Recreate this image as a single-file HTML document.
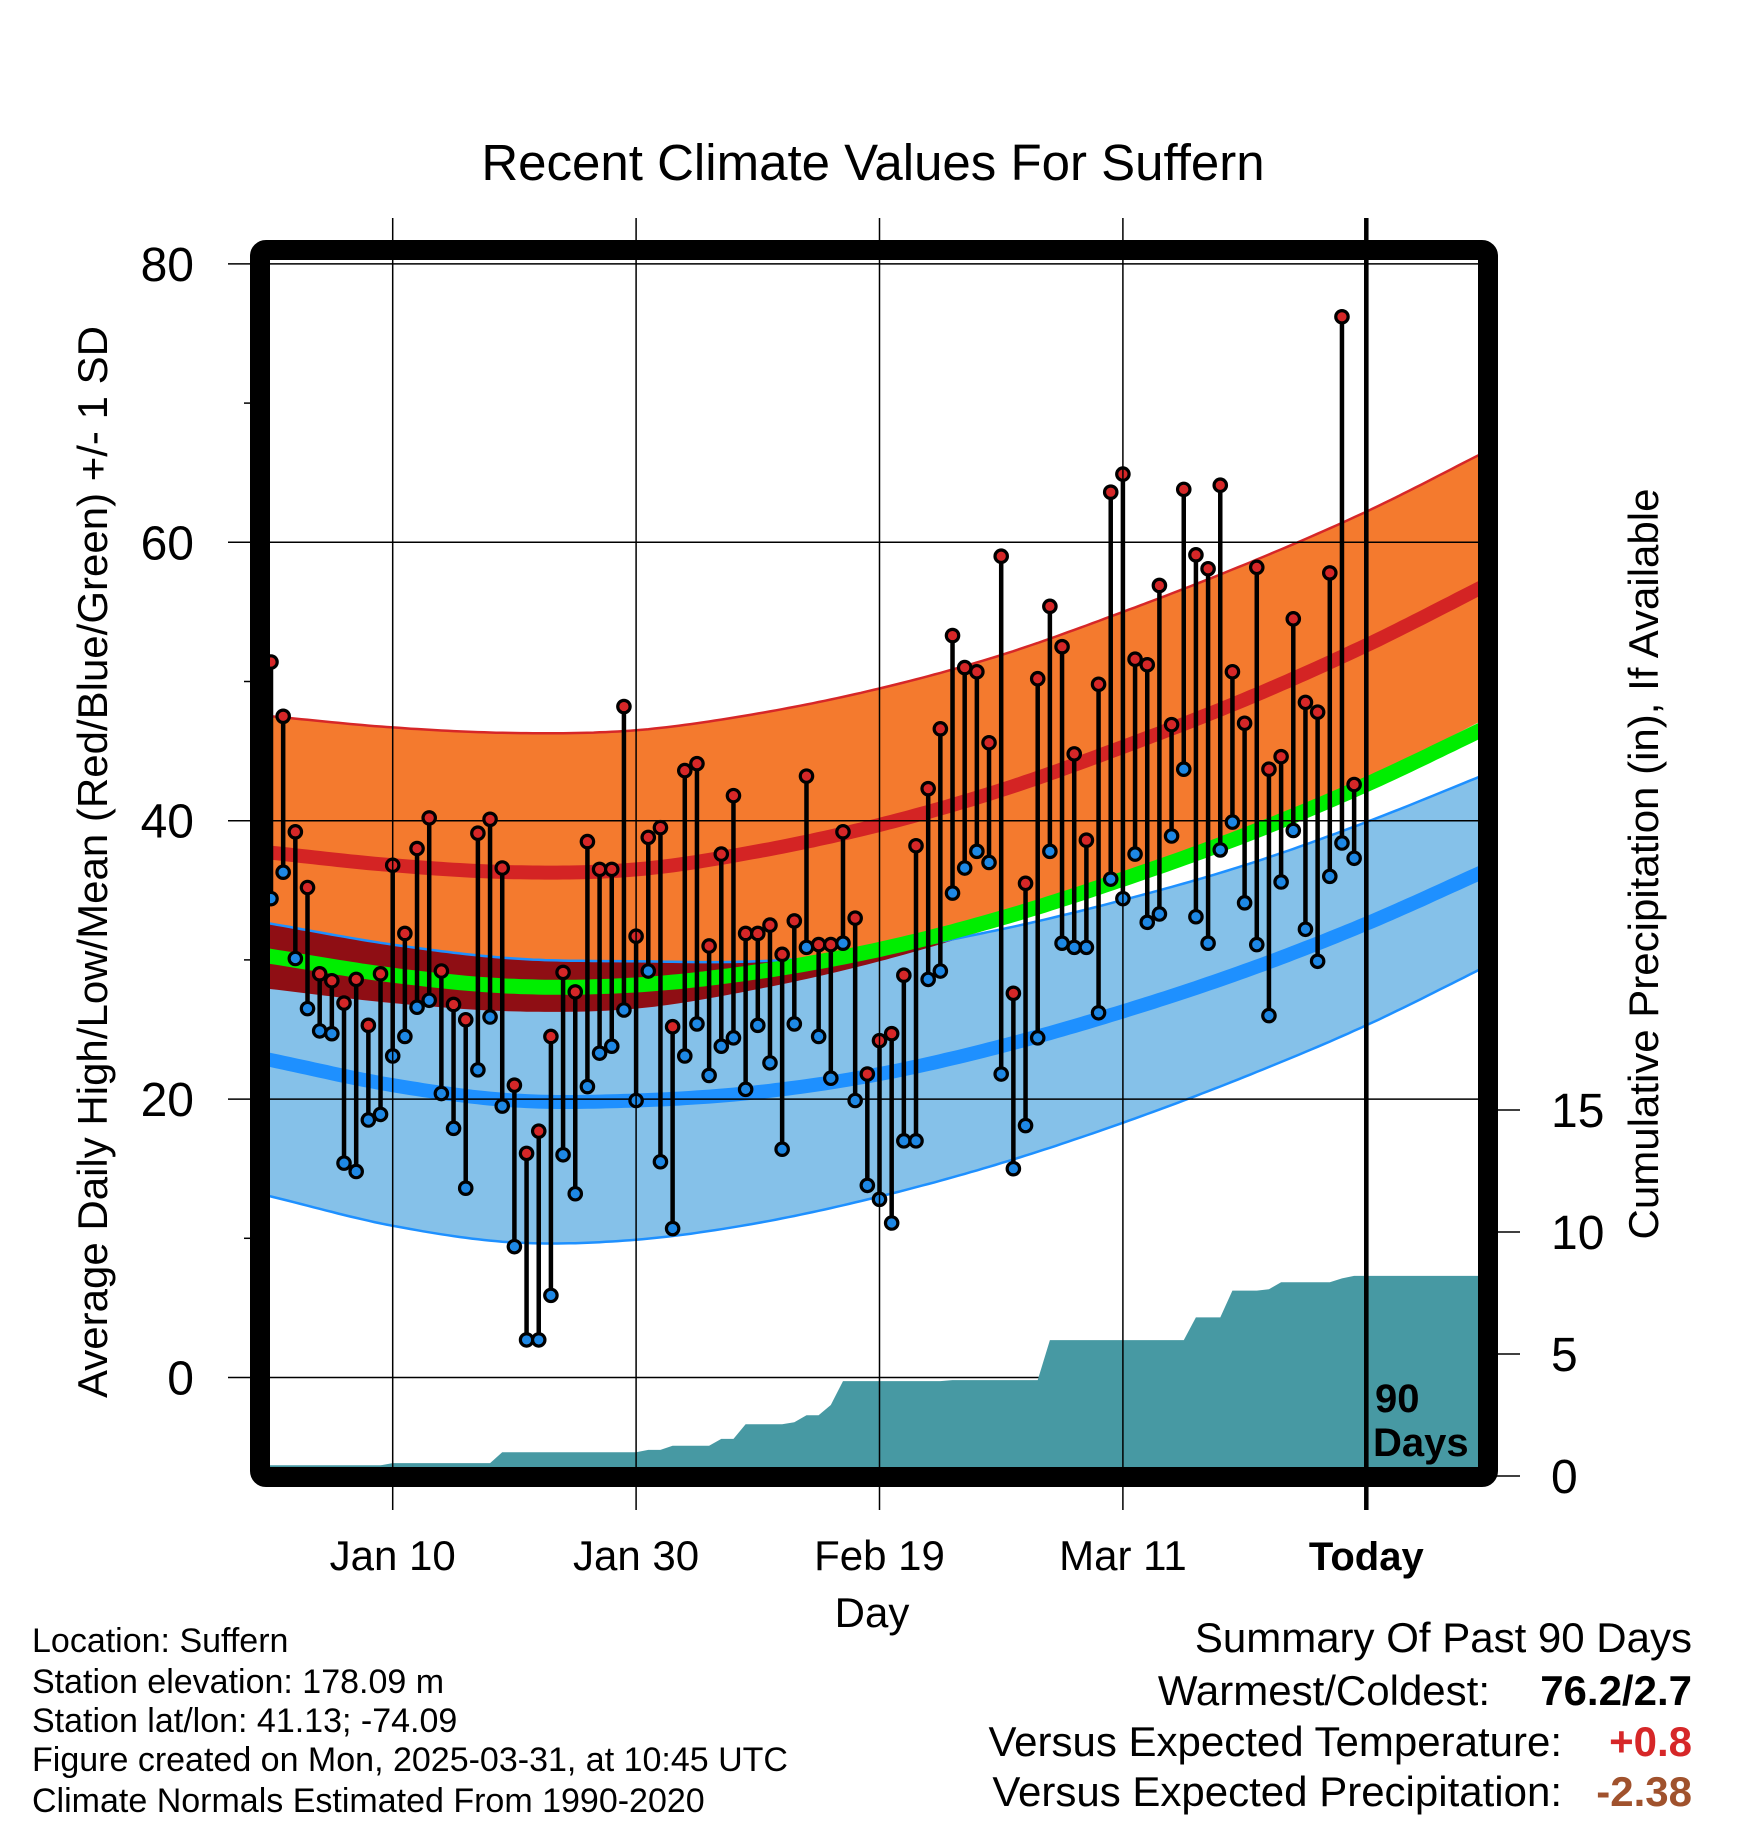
<!DOCTYPE html>
<html><head><meta charset="utf-8">
<style>
html,body{margin:0;padding:0;background:#fff;}
svg{display:block;font-family:"Liberation Sans",Arial,sans-serif;}
</style></head>
<body>
<svg id="chart" width="1748" height="1828" viewBox="0 0 1748 1828" xmlns="http://www.w3.org/2000/svg">
<defs><clipPath id="plotClip"><rect x="270" y="260" width="1208" height="1208"/></clipPath></defs>
<rect x="0" y="0" width="1748" height="1828" fill="#fff"/>
<g id="plot" clip-path="url(#plotClip)"></g>
<g id="over"></g>
<text x="873" y="180" font-size="51" text-anchor="middle">Recent Climate Values For Suffern</text>
<text transform="translate(107,862) rotate(-90)" font-size="42" text-anchor="middle">Average Daily High/Low/Mean (Red/Blue/Green) +/- 1 SD</text>
<text transform="translate(1658,864) rotate(-90)" font-size="42" text-anchor="middle">Cumulative Precipitation (in), If Available</text>
<text x="872" y="1627" font-size="42" text-anchor="middle">Day</text>
<text x="1375" y="1412" font-size="40" font-weight="bold">90</text>
<text x="1373" y="1456" font-size="40" font-weight="bold">Days</text>
<g font-size="34">
<text x="32" y="1652">Location: Suffern</text>
<text x="32" y="1693">Station elevation: 178.09 m</text>
<text x="32" y="1732">Station lat/lon: 41.13; -74.09</text>
<text x="32" y="1771">Figure created on Mon, 2025-03-31, at 10:45 UTC</text>
<text x="32" y="1812">Climate Normals Estimated From 1990-2020</text>
</g>
<g font-size="42" text-anchor="end">
<text x="1692" y="1652">Summary Of Past 90 Days</text>
<text x="1490" y="1705">Warmest/Coldest:</text>
<text x="1692" y="1705" font-weight="bold">76.2/2.7</text>
<text x="1562" y="1756">Versus Expected Temperature:</text>
<text x="1692" y="1756" font-weight="bold" fill="#d62728">+0.8</text>
<text x="1562" y="1806">Versus Expected Precipitation:</text>
<text x="1692" y="1806" font-weight="bold" fill="#a0522d">-2.38</text>
</g>
</svg>
<script>
const highs=[51.4,47.5,39.2,35.2,29.0,28.5,26.9,28.6,25.3,29.0,36.8,31.9,38.0,40.2,29.2,26.8,25.7,39.1,40.1,36.6,21.0,16.1,17.7,24.5,29.1,27.7,38.5,36.5,36.5,48.2,31.7,38.8,39.5,25.2,43.6,44.1,31.0,37.6,41.8,31.9,31.9,32.5,30.4,32.8,43.2,31.1,31.1,39.2,33.0,21.8,24.2,24.7,28.9,38.2,42.3,46.6,53.3,51.0,50.7,45.6,59.0,27.6,35.5,50.2,55.4,52.5,44.8,38.6,49.8,63.6,64.9,51.6,51.2,56.9,46.9,63.8,59.1,58.1,64.1,50.7,47.0,58.2,43.7,44.6,54.5,48.5,47.8,57.8,76.2,42.6];
const lows=[34.4,36.3,30.1,26.5,24.9,24.7,15.4,14.8,18.5,18.9,23.1,24.5,26.6,27.1,20.4,17.9,13.6,22.1,25.9,19.5,9.4,2.7,2.7,5.9,16.0,13.2,20.9,23.3,23.8,26.4,19.9,29.2,15.5,10.7,23.1,25.4,21.7,23.8,24.4,20.7,25.3,22.6,16.4,25.4,30.9,24.5,21.5,31.2,19.9,13.8,12.8,11.1,17.0,17.0,28.6,29.2,34.8,36.6,37.8,37.0,21.8,15.0,18.1,24.4,37.8,31.2,30.9,30.9,26.2,35.8,34.4,37.6,32.7,33.3,38.9,43.7,33.1,31.2,37.9,39.9,34.1,31.1,26.0,35.6,39.3,32.2,29.9,36.0,38.4,37.3];
const precipCum=[0.44,0.44,0.44,0.44,0.44,0.44,0.44,0.44,0.44,0.44,0.53,0.53,0.53,0.53,0.53,0.53,0.53,0.53,0.53,0.97,0.97,0.97,0.97,0.97,0.97,0.97,0.97,0.97,0.97,0.97,0.97,1.07,1.07,1.24,1.24,1.24,1.24,1.52,1.52,2.12,2.12,2.12,2.12,2.2,2.49,2.49,2.91,3.89,3.89,3.89,3.89,3.89,3.89,3.89,3.89,3.89,3.93,3.93,3.93,3.93,3.93,3.93,3.93,3.93,5.57,5.57,5.57,5.57,5.57,5.57,5.57,5.57,5.57,5.57,5.57,5.57,6.5,6.5,6.5,7.6,7.6,7.6,7.65,7.94,7.94,7.94,7.94,7.94,8.1,8.2];
const normDays=[0,10,20,30,40,50,60,70,80,90,100];
const highNormal=[37.7,36.8,36.3,36.5,37.8,39.7,42.2,45.3,48.7,52.6,57.0];
const highSD=[9.8,9.9,10.0,10.0,9.9,9.8,9.7,9.7,9.7,9.6,9.6];
const lowNormal=[22.8,21.0,19.9,19.9,20.5,21.8,23.8,26.3,29.2,32.6,36.5];
const lowSD=[9.8,10.1,10.2,10.0,9.4,8.8,8.4,8.0,7.6,7.3,6.9];
const tempTicks=[0,20,40,60,80];
const tempMinorTicks=[10,30,50,70];
const precipTicks=[0,5,10,15];
const dateTickDays=[10,30,50,70,90];
const dateTickLabels=["Jan 10","Jan 30","Feb 19","Mar 11","Today"];

const NS="http://www.w3.org/2000/svg";
const X0=271,DX=12.17,Y0=1377.5,DY=13.92,P0=1476,DP=24.4;
const PL=270,PR=1478,PT=260,PB=1468;
function x(d){return X0+DX*d;}
function yT(v){return Y0-DY*v;}
function yP(p){return P0-DP*p;}
function mk(parent,tag,attrs){const e=document.createElementNS(NS,tag);for(const k in attrs)e.setAttribute(k,attrs[k]);parent.appendChild(e);return e;}
function interp(arr,d){
  const step=normDays[1]-normDays[0];let i=Math.floor((d-normDays[0])/step);
  i=Math.max(0,Math.min(arr.length-2,i));const t=(d-normDays[i])/step;
  const n=arr.length;
  const p1=arr[i],p2=arr[i+1];
  const p0=i>0?arr[i-1]:2*arr[0]-arr[1];
  const p3=i+2<n?arr[i+2]:2*arr[n-1]-arr[n-2];
  const t2=t*t,t3=t2*t;
  return 0.5*((2*p1)+(-p0+p2)*t+(2*p0-5*p1+4*p2-p3)*t2+(-p0+3*p1-3*p2+p3)*t3);
}
const plot=document.getElementById('plot');
const over=document.getElementById('over');
const grid=[];for(let d=-1;d<=100.5;d+=0.5)grid.push(d);
const hm=d=>interp(highNormal,d),hs=d=>interp(highSD,d),lm=d=>interp(lowNormal,d),ls=d=>interp(lowSD,d);
function line(f){return grid.map(d=>x(d).toFixed(1)+','+yT(f(d)).toFixed(1)).join(' ');}
function band(f1,f2){return grid.map(d=>x(d).toFixed(1)+','+yT(f1(d)).toFixed(1)).concat(grid.slice().reverse().map(d=>x(d).toFixed(1)+','+yT(f2(d)).toFixed(1))).join(' ');}

let e;
e=mk(plot,'polygon',{points:band(d=>hm(d)+hs(d),d=>hm(d)-hs(d)),fill:'#f47a2e'});


e=mk(plot,'polygon',{points:band(d=>lm(d)+ls(d),d=>lm(d)-ls(d)),fill:'#85c1e9'});


e=mk(plot,'polygon',{points:band(d=>Math.max(lm(d)+ls(d),hm(d)-hs(d)),d=>hm(d)-hs(d)),fill:'#8f0e14'});


e=mk(plot,'polyline',{points:line(d=>hm(d)+hs(d)),fill:'none',stroke:'#d62728','stroke-width':2.5});


e=mk(plot,'polyline',{points:line(d=>lm(d)+ls(d)),fill:'none',stroke:'#1e90ff','stroke-width':2.5});


e=mk(plot,'polyline',{points:line(d=>lm(d)-ls(d)),fill:'none',stroke:'#1e90ff','stroke-width':2.5});


e=mk(plot,'polyline',{points:line(hm),fill:'none',stroke:'#d42424','stroke-width':14});


e=mk(plot,'polyline',{points:line(lm),fill:'none',stroke:'#1e90ff','stroke-width':14});


e=mk(plot,'polyline',{points:line(d=>(hm(d)+lm(d))/2),fill:'none',stroke:'#00ee00','stroke-width':15});



tempTicks.forEach(v=>{
  const g=mk(plot,'line',{x1:PL,x2:PR,y1:yT(v),y2:yT(v),stroke:'#000','stroke-width':1.5});
  
  
});
dateTickDays.forEach((d,i)=>{
  const g=mk(over,'line',{x1:x(d),x2:x(d),y1:218,y2:1510,stroke:'#000','stroke-width':i===4?4.5:1.5});
  
  
});

let pts=[PL+','+(P0+10),PL+','+yP(precipCum[0]).toFixed(1)];
precipCum.forEach((p,i)=>pts.push(x(i).toFixed(1)+','+yP(p).toFixed(1)));
pts.push(PR+','+yP(precipCum[precipCum.length-1]).toFixed(1));
pts.push(PR+','+(P0+10));
e=mk(plot,'polygon',{points:pts.join(' '),fill:'#4799a3'});



e=mk(plot,'line',{x1:x(90),x2:x(90),y1:PT,y2:PB,stroke:'#000','stroke-width':4.5});



highs.forEach((h,i)=>{
  const s=mk(plot,'line',{x1:x(i),x2:x(i),y1:yT(h),y2:yT(lows[i]),stroke:'#000','stroke-width':4.5});
  
  
});
highs.forEach((h,i)=>{
  const c1=mk(plot,'circle',{cx:x(i),cy:yT(h),r:6.2,fill:'#d62728',stroke:'#000','stroke-width':3.2});
  
  
  const c2=mk(plot,'circle',{cx:x(i),cy:yT(lows[i]),r:6.2,fill:'#1e88e5',stroke:'#000','stroke-width':3.2});
  
  
});

e=mk(over,'rect',{x:260,y:250,width:1228,height:1227,rx:6,fill:'none',stroke:'#000','stroke-width':20});



tempTicks.forEach(v=>{
  const t=mk(over,'line',{x1:228,x2:252,y1:yT(v),y2:yT(v),stroke:'#000','stroke-width':1.5});
  
  
  const l=mk(over,'text',{x:194,y:yT(v)+17,'font-size':48,'text-anchor':'end'});
  l.textContent=String(v);
  
  
});
tempMinorTicks.forEach(v=>{
  const t=mk(over,'line',{x1:244,x2:252,y1:yT(v),y2:yT(v),stroke:'#000','stroke-width':1.5});
  
  
});
precipTicks.forEach(p=>{
  const t=mk(over,'line',{x1:1496,x2:1520,y1:yP(p),y2:yP(p),stroke:'#000','stroke-width':1.5});
  
  
  const l=mk(over,'text',{x:1551,y:yP(p)+17,'font-size':48});
  l.textContent=String(p);
  
  
});
dateTickDays.forEach((d,i)=>{
  const l=mk(over,'text',{x:x(d),y:1570,'font-size':i===4?40:42,'text-anchor':'middle'});
  if(i===4)l.setAttribute('font-weight','bold');
  l.textContent=dateTickLabels[i];
  
  
});
</script>
</body></html>
